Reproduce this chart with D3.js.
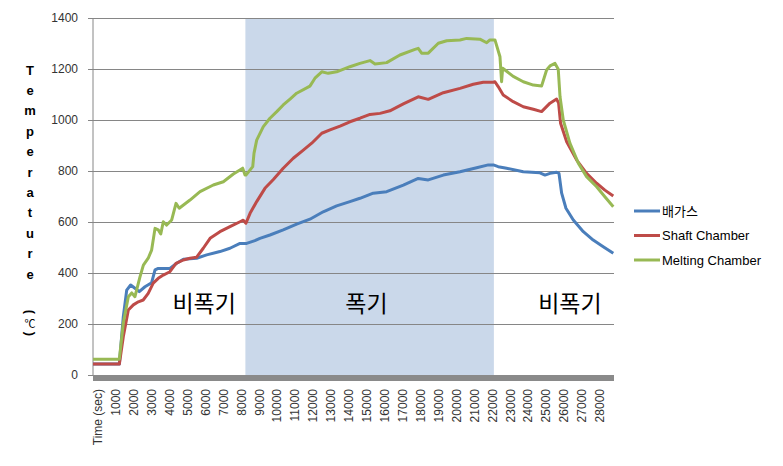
<!DOCTYPE html>
<html><head><meta charset="utf-8">
<script src="https://cdn.jsdelivr.net/npm/d3@7"></script>
<style>
html,body{margin:0;padding:0;background:#fff;}
svg{display:block;}
</style></head>
<body>
<script>
// ---- data (time in sec, temperature in °C) ----
const seriesNames = ["배가스", "Shaft Chamber", "Melting Chamber"];
const seriesColors = ["#4A7EBB", "#BE4B48", "#98B954"];
const gasData = [[0,43],[1470,43],[1690,229],[1880,333],[2100,353],[2340,340],[2580,327],[2900,346],[3270,362],[3460,412],[3640,418],[4290,418],[4670,438],[5040,454],[5780,458],[6340,471],[7080,484],[7640,497],[8200,516],[8570,516],[9030,527],[9310,536],[9870,549],[10610,569],[11360,592],[12100,611],[12840,640],[13590,663],[14330,680],[14890,693],[15630,713],[16380,719],[17310,745],[18140,771],[18700,765],[19540,784],[20470,797],[21400,813],[22050,824],[22330,824],[22600,817],[23070,811],[24000,797],[24930,793],[25210,784],[25490,791],[25860,795],[25990,791],[26140,713],[26380,654],[26790,608],[27350,562],[27900,529],[28460,503],[29020,477]];
const shaftData = [[0,43],[1470,43],[1690,150],[1970,255],[2250,275],[2530,287],[2800,294],[3080,320],[3360,360],[3640,379],[3920,392],[4290,405],[4630,438],[5040,451],[5410,458],[5780,462],[6150,497],[6530,536],[7080,562],[7640,582],[8200,601],[8380,607],[8530,595],[8760,634],[9130,680],[9590,732],[10060,767],[10610,811],[11170,850],[11730,882],[12200,909],[12760,948],[13220,961],[13780,976],[14330,993],[14890,1007],[15450,1022],[16010,1026],[16560,1036],[17310,1063],[18140,1091],[18700,1081],[19540,1107],[20470,1124],[21210,1140],[21770,1148],[22330,1148],[22420,1150],[22600,1131],[22880,1098],[23440,1072],[24000,1052],[24560,1042],[25020,1033],[25490,1066],[25860,1082],[25970,1066],[26080,987],[26420,915],[26980,843],[27530,791],[28090,752],[28550,725],[29020,702]];
const meltData = [[0,62],[1470,62],[1690,203],[1970,307],[2160,322],[2340,307],[2620,385],[2810,431],[3080,458],[3270,490],[3460,575],[3640,569],[3780,553],[3920,601],[4110,588],[4390,608],[4630,673],[4810,654],[5410,686],[5970,719],[6710,745],[7270,758],[7830,788],[8350,811],[8480,784],[8530,784],[8910,817],[8980,869],[9130,921],[9500,974],[9870,1007],[10250,1033],[10610,1059],[10990,1082],[11360,1105],[12100,1133],[12380,1164],[12760,1189],[13120,1183],[13590,1189],[14330,1209],[14890,1222],[15450,1233],[15730,1220],[16380,1225],[17120,1255],[17960,1277],[18140,1281],[18330,1262],[18700,1262],[19260,1301],[19730,1311],[20470,1314],[20840,1320],[21580,1317],[21960,1303],[22140,1314],[22420,1314],[22700,1248],[22790,1150],[22850,1203],[22980,1196],[23440,1171],[24000,1150],[24560,1137],[25020,1133],[25300,1196],[25490,1212],[25770,1222],[25950,1199],[26050,1091],[26230,1000],[26600,909],[27070,831],[27530,778],[28090,738],[28550,699],[29020,660]];
const yTicks = [0,200,400,600,800,1000,1200,1400];
const xTicks = [0,1000,2000,3000,4000,5000,6000,7000,8000,9000,10000,11000,12000,13000,14000,15000,16000,17000,18000,19000,20000,21000,22000,23000,24000,25000,26000,27000,28000];
const aerationPeriod = [8500, 22360];
const periodLabels = [["비폭기", 6200], ["폭기", 15250], ["비폭기", 26600]];
const yTitleLetters = "Temperature".split("");

const W = 783, H = 466;
const L = 93, R = 614, T = 18, B = 375;
const svg = d3.select("body").append("svg").attr("width", W).attr("height", H);

const x = d3.scaleLinear().domain([0, 29060]).range([L, R]);
const y = d3.scaleLinear().domain([0, 1400]).range([B, T]);

// aeration shading
svg.append("rect")
  .attr("x", x(aerationPeriod[0])).attr("y", y(1400))
  .attr("width", x(aerationPeriod[1]) - x(aerationPeriod[0]))
  .attr("height", y(0) - y(1400))
  .attr("fill", "#CAD8EA");

// gridlines + y axis
const yAxis = d3.axisLeft(y).tickValues(yTicks).tickSize(-(R - L)).tickPadding(15)
  .tickFormat(d3.format("d"));
const gy = svg.append("g").attr("transform", `translate(${L},0)`).call(yAxis);
gy.select(".domain").remove();
gy.selectAll(".tick line").attr("stroke", "#868686").attr("x1", -5);
gy.selectAll(".tick text").attr("font-family", "Liberation Sans, Arial, sans-serif")
  .attr("font-size", 12).attr("fill", "#333");
svg.append("line").attr("x1", L).attr("x2", L).attr("y1", T).attr("y2", B)
  .attr("stroke", "#868686");

// period labels
svg.append("g").selectAll("text").data(periodLabels).join("text")
  .attr("x", d => x(d[1])).attr("y", y(285))
  .attr("text-anchor", "middle").attr("dominant-baseline", "central")
  .attr("font-family", "Noto Sans CJK KR, sans-serif").attr("font-size", 23)
  .attr("fill", "#000").text(d => d[0]);

// lines
const line = d3.line().x(d => x(d[0])).y(d => y(d[1]));
const allSeries = [gasData, shaftData, meltData];
svg.append("g").selectAll("path").data(allSeries).join("path")
  .attr("d", line).attr("fill", "none")
  .attr("stroke", (d, i) => seriesColors[i]).attr("stroke-width", 3)
  .attr("stroke-linejoin", "round");

// bottom axis bar
svg.append("rect").attr("x", L).attr("y", B).attr("width", R - L).attr("height", 6)
  .attr("fill", "#8A8A8A");

// x axis labels
const xAxis = d3.axisBottom(x).tickValues(xTicks).tickSize(0)
  .tickFormat(d => d === 0 ? "Time (sec)" : String(d));
const gx = svg.append("g").attr("transform", `translate(0,${B + 6})`).call(xAxis);
gx.select(".domain").remove();
gx.selectAll(".tick text")
  .attr("font-family", "Liberation Sans, Arial, sans-serif").attr("font-size", 12)
  .attr("fill", "#333")
  .attr("transform", "translate(4.5,8) rotate(-90)")
  .attr("text-anchor", "end").attr("x", 0).attr("y", 0).attr("dy", "0.35em");

// y title
const yt = svg.append("g").attr("font-family", "Liberation Sans, Arial, sans-serif")
  .attr("font-weight", "bold").attr("font-size", 13).attr("fill", "#000");
yt.selectAll("text").data(yTitleLetters).join("text")
  .attr("x", 30).attr("y", (d, i) => 70 + i * 20.4)
  .attr("text-anchor", "middle").attr("dominant-baseline", "central").text(d => d);
yt.append("text").attr("transform", "translate(30,312) rotate(90)")
  .attr("text-anchor", "middle").attr("dominant-baseline", "central").text("(");
yt.append("text").attr("x", 30).attr("y", 323).attr("font-weight", "normal")
  .attr("font-family", "Noto Sans CJK KR, sans-serif").attr("font-size", 11)
  .attr("text-anchor", "middle").attr("dominant-baseline", "central").text("℃");
yt.append("text").attr("transform", "translate(30,334) rotate(90)")
  .attr("text-anchor", "middle").attr("dominant-baseline", "central").text(")");

// legend
const lg = svg.append("g").selectAll("g").data(seriesNames).join("g")
  .attr("transform", (d, i) => `translate(634,${211 + i * 24.5})`);
lg.append("line").attr("x1", 0).attr("x2", 26).attr("y1", 0).attr("y2", 0)
  .attr("stroke", (d, i) => seriesColors[i]).attr("stroke-width", 3);
lg.append("text").attr("x", 28).attr("y", 0).attr("dominant-baseline", "central")
  .attr("font-family", "Liberation Sans, Noto Sans CJK KR, sans-serif").attr("font-size", 13)
  .attr("fill", "#000").text(d => d);
</script>
</body></html>
